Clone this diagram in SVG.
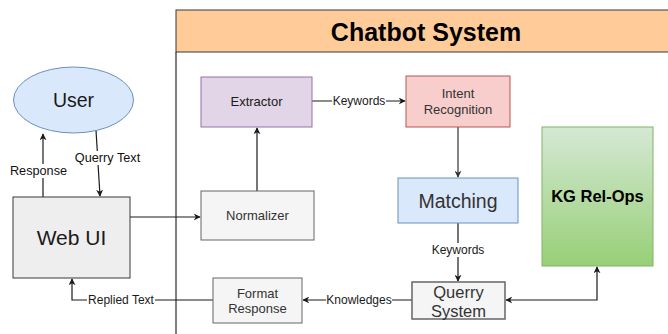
<svg xmlns="http://www.w3.org/2000/svg" width="668" height="334" viewBox="0 0 668 334">
  <style>
    .lbl { font-family: "Liberation Sans", Arial, sans-serif; font-size: 12px; fill: #1a1a1a; text-anchor: middle; dominant-baseline: central; }
    .lbl-big { font-size: 12.7px; fill: #111111; }
    .lblbg { fill: #ffffff; }
    .node-txt { font-family: "Liberation Sans", Arial, sans-serif; text-anchor: middle; dominant-baseline: central; }
    .edge { fill: none; stroke: #1a1a1a; stroke-width: 1.2; }
    .edge-gray { fill: none; stroke: #666666; stroke-width: 1.6; }
  </style>
  <defs>
    <marker id="arrow" viewBox="0 0 10 10" refX="9" refY="5" markerWidth="7" markerHeight="7" orient="auto-start-reverse" markerUnits="userSpaceOnUse">
      <path d="M0,0 L10,5 L0,10 L3,5 Z" fill="#1a1a1a"/>
    </marker>
    <marker id="arrow-gray" viewBox="0 0 10 10" refX="9" refY="5" markerWidth="7" markerHeight="7" orient="auto" markerUnits="userSpaceOnUse">
      <path d="M0,0 L10,5 L0,10 L3,5 Z" fill="#333333"/>
    </marker>
    <linearGradient id="kgGrad" x1="0" y1="0" x2="0" y2="1">
      <stop offset="0" stop-color="#d5e8d4"/>
      <stop offset="1" stop-color="#97d077"/>
    </linearGradient>
  </defs>

  <rect width="668" height="334" fill="#ffffff"/>

  <!-- Chatbot System container -->
  <g id="chatbot-system">
    <rect x="176" y="10" width="494" height="42" fill="#ffcc99" stroke="#36393d" stroke-width="1"/>
    <line x1="176" y1="52" x2="176" y2="334" stroke="#000000" stroke-width="1"/>
    <text x="426" y="31.5" class="node-txt" font-size="25" font-weight="bold" fill="#000000">Chatbot System</text>
  </g>

  <!-- connectors -->
  <g id="connectors">
    <!-- Web UI -> User -->
    <line x1="43" y1="197" x2="43" y2="134" class="edge" marker-end="url(#arrow)"/>
    <!-- User -> Web UI -->
    <line x1="96" y1="130" x2="100" y2="196" class="edge" marker-end="url(#arrow)"/>
    <!-- Web UI -> Normalizer -->
    <line x1="130" y1="217" x2="200" y2="217" class="edge" stroke-width="1.5" marker-end="url(#arrow)"/>
    <!-- Normalizer -> Extractor -->
    <line x1="257" y1="191" x2="257" y2="128" class="edge" marker-end="url(#arrow)"/>
    <!-- Extractor -> Intent Recognition -->
    <line x1="312" y1="101" x2="405" y2="101" class="edge" marker-end="url(#arrow)"/>
    <!-- Intent Recognition -> Matching -->
    <line x1="458" y1="127" x2="458" y2="177" class="edge-gray" marker-end="url(#arrow-gray)"/>
    <!-- Matching -> Querry System -->
    <line x1="458" y1="223" x2="458" y2="281" class="edge" marker-end="url(#arrow)"/>
    <!-- Querry System <-> KG Rel-Ops -->
    <polyline points="506,300 597,300 597,267" class="edge" marker-start="url(#arrow)" marker-end="url(#arrow)"/>
    <!-- Querry System -> Format Response -->
    <line x1="412" y1="300" x2="303" y2="300" class="edge" marker-end="url(#arrow)"/>
    <!-- Format Response -> Web UI -->
    <polyline points="213,300 72,300 72,279" class="edge" marker-end="url(#arrow)"/>

    <!-- edge labels -->
    <rect x="9" y="164" width="60" height="14" class="lblbg"/>
    <text x="38.5" y="171" class="lbl lbl-big">Response</text>
    <rect x="72" y="151" width="72" height="14" class="lblbg"/>
    <text x="107.5" y="158" class="lbl lbl-big">Querry Text</text>
    <rect x="332" y="94" width="54" height="14" class="lblbg"/>
    <text x="359" y="101" class="lbl">Keywords</text>
    <rect x="431" y="243" width="54" height="14" class="lblbg"/>
    <text x="458" y="250" class="lbl">Keywords</text>
    <rect x="326" y="293" width="66" height="14" class="lblbg"/>
    <text x="359" y="300" class="lbl">Knowledges</text>
    <rect x="87" y="293" width="68" height="14" class="lblbg"/>
    <text x="121" y="300" class="lbl">Replied Text</text>
  </g>

  <g id="user">
    <ellipse cx="73.5" cy="100" rx="60" ry="33" fill="#dae8fc" stroke="#6c8ebf" stroke-width="1"/>
    <text x="73.5" y="100" class="node-txt" font-size="19.5" fill="#1a1a1a">User</text>
  </g>

  <g id="web-ui">
    <rect x="13" y="197" width="117" height="81" fill="#eeeeee" stroke="#36393d" stroke-width="1"/>
    <text x="71.5" y="237.5" class="node-txt" font-size="21" fill="#1a1a1a">Web UI</text>
  </g>

  <g id="extractor">
    <rect x="201" y="77" width="111" height="50" fill="#e1d5e7" stroke="#9673a6" stroke-width="1"/>
    <text x="256.5" y="101.5" class="node-txt" font-size="13" fill="#1a1a1a">Extractor</text>
  </g>

  <g id="normalizer">
    <rect x="201" y="191" width="113" height="49" fill="#f5f5f5" stroke="#666666" stroke-width="1"/>
    <text x="257.5" y="215.5" class="node-txt" font-size="13" fill="#333333">Normalizer</text>
  </g>

  <g id="intent-recognition">
    <rect x="406" y="76" width="104" height="51" fill="#f8cecc" stroke="#b85450" stroke-width="1"/>
    <text x="458" y="93" class="node-txt" font-size="13" fill="#333333">Intent</text>
    <text x="458" y="109.5" class="node-txt" font-size="13" fill="#333333">Recognition</text>
  </g>

  <g id="matching">
    <rect x="398" y="178" width="120" height="45" fill="#dae8fc" stroke="#6c8ebf" stroke-width="1"/>
    <text x="458" y="201" class="node-txt" font-size="19.5" fill="#333333">Matching</text>
  </g>

  <g id="kg-rel-ops">
    <rect x="542" y="127" width="111" height="139" fill="url(#kgGrad)" stroke="#82b366" stroke-width="1"/>
    <text x="597.5" y="196" class="node-txt" font-size="16.5" font-weight="bold" fill="#000000">KG Rel-Ops</text>
  </g>

  <g id="querry-system">
    <rect x="412" y="282" width="93" height="37" fill="#f5f5f5" stroke="#666666" stroke-width="1.5"/>
    <text x="458.5" y="292" class="node-txt" font-size="16.5" fill="#333333">Querry</text>
    <text x="458.5" y="311" class="node-txt" font-size="16.5" fill="#333333">System</text>
  </g>

  <g id="format-response">
    <rect x="213" y="278" width="89" height="45" fill="#f5f5f5" stroke="#666666" stroke-width="1"/>
    <text x="257.5" y="293" class="node-txt" font-size="13" fill="#333333">Format</text>
    <text x="257.5" y="308.5" class="node-txt" font-size="13" fill="#333333">Response</text>
  </g>
</svg>
